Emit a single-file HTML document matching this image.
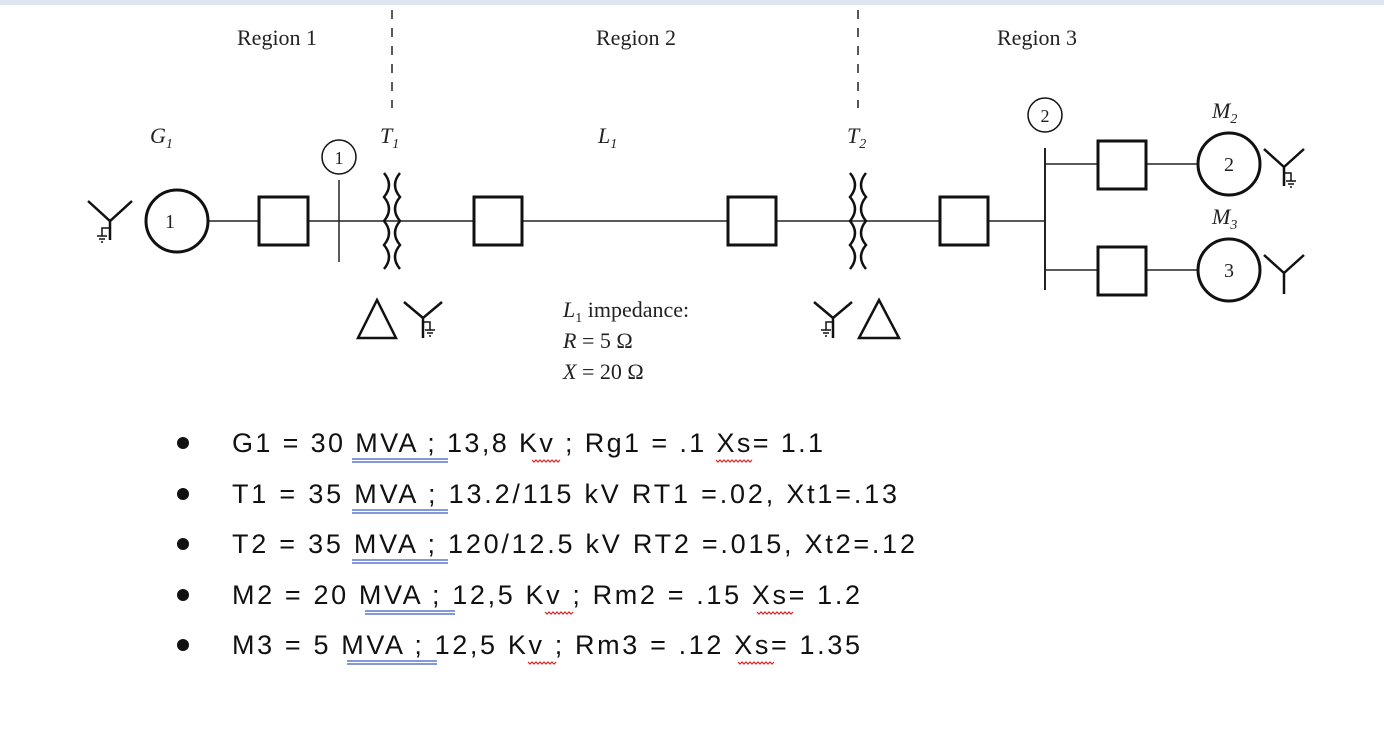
<!DOCTYPE html>
<html><head><meta charset="utf-8"><style>
html,body{margin:0;padding:0;background:#fff;}
svg{display:block;}
.s{font-family:"Liberation Serif",serif;fill:#222;}
.b{font-family:"Liberation Sans",sans-serif;fill:#111;font-size:27px;}
</style></head><body>
<svg width="1384" height="734" viewBox="0 0 1384 734" xmlns="http://www.w3.org/2000/svg">
<rect x="0" y="0" width="1384" height="5" fill="#dfe5f1"/>
<g stroke="#222" fill="none" stroke-width="1.5">
<line x1="392" y1="10" x2="392" y2="108" stroke-dasharray="9,9"/>
<line x1="858" y1="10" x2="858" y2="108" stroke-dasharray="9,9"/>
<line x1="208" y1="221" x2="1045" y2="221"/>
<line x1="339" y1="180" x2="339" y2="262"/>
<line x1="1045" y1="148" x2="1045" y2="290" stroke-width="2"/>
<line x1="1045" y1="164" x2="1198" y2="164"/>
<line x1="1045" y1="270" x2="1198" y2="270"/>
</g>
<g stroke="#111" fill="#fff" stroke-width="3">
<circle cx="177" cy="221" r="31"/>
<rect x="259" y="197" width="49" height="48"/>
<rect x="474" y="197" width="48" height="48"/>
<rect x="728" y="197" width="48" height="48"/>
<rect x="940" y="197" width="48" height="48"/>
<rect x="1098" y="141" width="48" height="48"/>
<rect x="1098" y="247" width="48" height="48"/>
<circle cx="1229" cy="164" r="31"/>
<circle cx="1229" cy="270" r="31"/>
</g>
<g stroke="#111" fill="none" stroke-width="1.5">
<circle cx="339" cy="157" r="17"/>
<circle cx="1045" cy="115" r="17"/>
</g>
<g stroke="#111" fill="none" stroke-width="2.5">
<path d="M384 173 q10 12 0 24 q10 12 0 24 q10 12 0 24 q10 12 0 24"/>
<path d="M400 173 q-10 12 0 24 q-10 12 0 24 q-10 12 0 24 q-10 12 0 24"/>
<path d="M850 173 q10 12 0 24 q10 12 0 24 q10 12 0 24 q10 12 0 24"/>
<path d="M866 173 q-10 12 0 24 q-10 12 0 24 q-10 12 0 24 q-10 12 0 24"/>
</g>
<g stroke="#111" fill="none" stroke-width="2.5">
<path d="M88 201 L110 221 L132 201 M110 221 L110 240"/>
<path d="M110 228 h-8 v8 M97 236 h10 M99 239 h6 M101 242 h2" stroke-width="1.5"/>
<path d="M1264 149 L1284 167 L1304 149 M1284 167 L1284 186"/>
<path d="M1284 173 h7 v8 M1286 181 h10 M1288 184 h6 M1290 187 h2" stroke-width="1.5"/>
<path d="M1264 255 L1284 273 L1304 255 M1284 273 L1284 294"/>
<path d="M377 300 L396 338 L358 338 Z"/>
<path d="M404 302 L423 318 L442 302 M423 318 L423 338"/>
<path d="M423 322 h7 v8 M425 330 h10 M427 333 h6 M429 336 h2" stroke-width="1.5"/>
<path d="M814 302 L833 318 L852 302 M833 318 L833 338"/>
<path d="M833 322 h-7 v8 M821 330 h10 M823 333 h6 M825 336 h2" stroke-width="1.5"/>
<path d="M879 300 L899 338 L859 338 Z"/>
</g>
<g class="s" font-size="22">
<text x="237" y="45">Region 1</text>
<text x="596" y="45">Region 2</text>
<text x="997" y="45">Region 3</text>
<text x="170" y="228" text-anchor="middle" font-size="20">1</text>
<text x="1229" y="171" text-anchor="middle" font-size="20">2</text>
<text x="1229" y="277" text-anchor="middle" font-size="20">3</text>
<text x="339" y="164" text-anchor="middle" font-size="18">1</text>
<text x="1045" y="122" text-anchor="middle" font-size="18">2</text>
<text x="150" y="143" font-style="italic">G<tspan font-size="14" dy="5">1</tspan></text>
<text x="380" y="143" font-style="italic">T<tspan font-size="14" dy="5">1</tspan></text>
<text x="598" y="143" font-style="italic">L<tspan font-size="14" dy="5">1</tspan></text>
<text x="847" y="143" font-style="italic">T<tspan font-size="14" dy="5">2</tspan></text>
<text x="1212" y="118" font-style="italic">M<tspan font-size="14" dy="5">2</tspan></text>
<text x="1212" y="224" font-style="italic">M<tspan font-size="14" dy="5">3</tspan></text>
<text x="563" y="317"><tspan font-style="italic">L</tspan><tspan font-size="14" dy="5">1</tspan><tspan dy="-5"> impedance:</tspan></text>
<text x="563" y="348"><tspan font-style="italic">R</tspan> = 5 Ω</text>
<text x="563" y="379"><tspan font-style="italic">X</tspan> = 20 Ω</text>
</g>
<g fill="#111">
<circle cx="183" cy="443" r="6"/><circle cx="183" cy="494" r="6"/><circle cx="183" cy="544" r="6"/><circle cx="183" cy="595" r="6"/><circle cx="183" cy="645" r="6"/>
</g>
<text class="b" x="232" y="452" textLength="591" lengthAdjust="spacing">G1 = 30 MVA ; 13,8 Kv ; Rg1 = .1 Xs= 1.1</text>
<text class="b" x="232" y="503" textLength="665" lengthAdjust="spacing">T1 = 35 MVA ; 13.2/115 kV RT1 =.02, Xt1=.13</text>
<text class="b" x="232" y="553" textLength="683" lengthAdjust="spacing">T2 = 35 MVA ; 120/12.5 kV RT2 =.015, Xt2=.12</text>
<text class="b" x="232" y="604" textLength="628" lengthAdjust="spacing">M2 = 20 MVA ; 12,5 Kv ; Rm2 = .15 Xs= 1.2</text>
<text class="b" x="232" y="654" textLength="628" lengthAdjust="spacing">M3 = 5 MVA ; 12,5 Kv ; Rm3 = .12 Xs= 1.35</text>
<g stroke="#3a5bc7" stroke-width="1.3">
<path d="M352 459 H448 M352 462 H448"/>
<path d="M352 510 H448 M352 513 H448"/>
<path d="M352 560 H448 M352 563 H448"/>
<path d="M365 611 H455 M365 614 H455"/>
<path d="M347 661 H437 M347 664 H437"/>
</g>
<g stroke="#d22" stroke-width="1.2" fill="none">
<path d="M532 460 l2 2 l2 -2 l2 2 l2 -2 l2 2 l2 -2 l2 2 l2 -2 l2 2 l2 -2 l2 2 l2 -2 l2 2 l2 -2"/>
<path d="M716 460 l2 2 l2 -2 l2 2 l2 -2 l2 2 l2 -2 l2 2 l2 -2 l2 2 l2 -2 l2 2 l2 -2 l2 2 l2 -2 l2 2 l2 -2 l2 2 l2 -2"/>
<path d="M545 612 l2 2 l2 -2 l2 2 l2 -2 l2 2 l2 -2 l2 2 l2 -2 l2 2 l2 -2 l2 2 l2 -2 l2 2 l2 -2"/>
<path d="M757 612 l2 2 l2 -2 l2 2 l2 -2 l2 2 l2 -2 l2 2 l2 -2 l2 2 l2 -2 l2 2 l2 -2 l2 2 l2 -2 l2 2 l2 -2 l2 2 l2 -2"/>
<path d="M528 662 l2 2 l2 -2 l2 2 l2 -2 l2 2 l2 -2 l2 2 l2 -2 l2 2 l2 -2 l2 2 l2 -2 l2 2 l2 -2"/>
<path d="M738 662 l2 2 l2 -2 l2 2 l2 -2 l2 2 l2 -2 l2 2 l2 -2 l2 2 l2 -2 l2 2 l2 -2 l2 2 l2 -2 l2 2 l2 -2 l2 2 l2 -2"/>
</g>
</svg>
</body></html>
